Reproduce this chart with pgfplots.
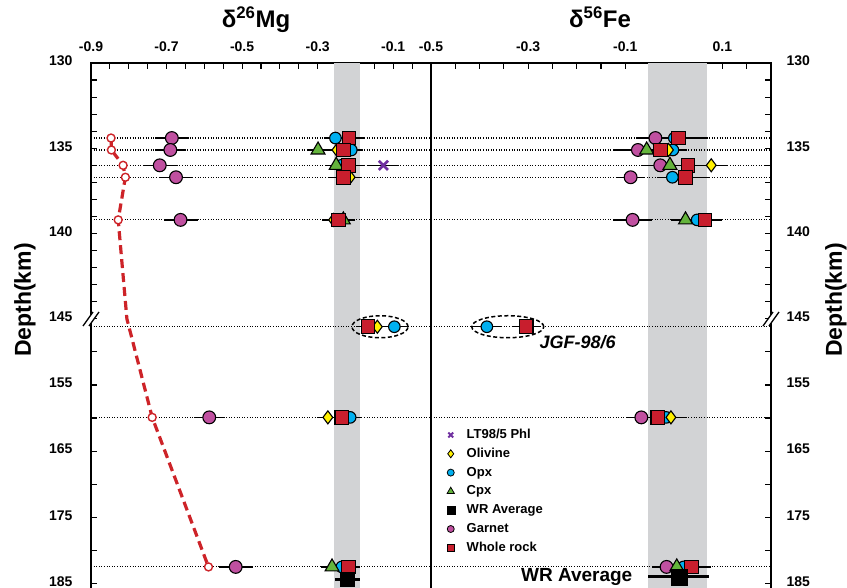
\documentclass[border=0pt]{standalone}
\usepackage{pgfplots}
\pgfplotsset{compat=1.18}
\usepackage{pgfplotstable}
\usepackage{fontspec}
\setmainfont{Liberation Sans}

\definecolor{grt}{RGB}{192,80,160}
\definecolor{wr}{RGB}{200,30,45}
\definecolor{opx}{RGB}{0,176,240}
\definecolor{ol}{RGB}{255,240,0}
\definecolor{cpx}{RGB}{100,180,60}
\definecolor{phl}{RGB}{112,48,160}
\definecolor{band}{RGB}{210,211,213}
\definecolor{model}{RGB}{205,35,40}

\newcommand{\tk}{\fontsize{14}{16}\selectfont\bfseries}
\newcommand{\ttl}{\fontsize{24}{28}\selectfont\bfseries}
\newcommand{\lab}{\fontsize{23}{26}\selectfont\bfseries}

% depth (km), value, 2sd
\pgfplotstableread{
depth grt grtE opx opxE ol olE cpx cpxE wr wrE
134.4 -0.686 0.045 -0.253 0.03 nan 0.03 nan 0.03 -0.217 0.04
135.1 -0.690 0.040 -0.211 0.03 -0.249 0.03 -0.299 0.03 -0.232 0.04
136.0 -0.718 0.045 -0.237 0.03 nan 0.03 -0.251 0.03 -0.218 0.04
136.7 -0.675 0.045 nan 0.03 -0.214 0.03 nan 0.03 -0.232 0.04
139.2 -0.663 0.045 nan 0.03 -0.258 0.03 -0.232 0.03 -0.245 0.03
146.2 nan 0.04 -0.097 0.03 -0.142 0.03 nan 0.03 -0.167 0.03
159.9 -0.587 0.040 -0.214 0.03 -0.273 0.03 nan 0.03 -0.236 0.03
182.5 -0.517 0.045 -0.236 0.03 nan 0.03 -0.262 0.03 -0.218 0.03
}\mgtab

\pgfplotstableread{
depth grt grtE opx opxE ol olE cpx cpxE wr wrE
134.4 -0.038 0.04 0.001 0.03 nan 0.03 nan 0.03 0.010 0.06
135.1 -0.074 0.05 -0.002 0.03 -0.011 0.03 -0.056 0.03 -0.028 0.04
136.0 -0.028 0.04 nan 0.03 0.077 0.035 -0.008 0.03 0.029 0.04
136.7 -0.089 0.03 -0.003 0.03 nan 0.03 nan 0.03 0.024 0.05
139.2 -0.085 0.04 0.048 0.03 nan 0.03 0.024 0.03 0.064 0.035
146.2 nan 0.04 -0.385 0.03 nan 0.03 nan 0.03 -0.304 0.03
159.9 -0.067 0.03 -0.016 0.03 -0.006 0.03 nan 0.03 -0.033 0.03
182.5 -0.015 0.03 0.020 0.03 nan 0.03 0.006 0.03 0.036 0.04
}\fetab

% modelled d26Mg of garnet with depth
\pgfplotstableread{
depth x
134.4 -0.847
135.1 -0.846
136.0 -0.815
136.7 -0.809
139.2 -0.828
145.0 -0.805
159.9 -0.738
182.5 -0.589
}\model

\pgfplotsset{
  panel/.style={
    scale only axis, width=340pt, height=535pt,
    y dir=reverse, ymin=130, ymax=187.2,
    y coord trafo/.code={\pgfmathparse{##1>145 ? 145+(##1-145)*0.388 : ##1}},
    y coord inv trafo/.code={\pgfmathparse{##1>145 ? 145+(##1-145)/0.388 : ##1}},
    ytick={130,135,140,145,155,165,175,185},
    yticklabels={130,135,140,145,155,165,175,185},
    minor ytick={131,132,133,134,136,137,138,139,141,142,143,144,150,160,170,180},
    xtick pos=right, xticklabel pos=right,
    tick align=inside, major tick length=6pt, minor tick length=6pt,
    tick style={black, line width=1.2pt},
    axis line style={line width=1.5pt},
    tick label style={font=\tk},
    xticklabel style={yshift=8pt},
  },
  ebar/.style={forget plot, draw=none, mark=none,
    error bars/x dir=both, error bars/x explicit, error bars/error mark=none,
    error bars/error bar style={draw=black, line width=1.4pt, solid}},
  sGrt/.style={forget plot, only marks, mark=*, mark size=6.4pt, mark options={fill=grt, draw=black, line width=1.1pt}},
  sOpx/.style={forget plot, only marks, mark=*, mark size=5.8pt, mark options={fill=opx, draw=black, line width=1.1pt}},
  sOl/.style={forget plot, only marks, mark=diamond*, mark size=6.5pt, mark options={fill=ol, draw=black, line width=1.1pt}},
  sCpx/.style={forget plot, only marks, mark=triangle*, mark size=8pt, mark options={fill=cpx, draw=black, line width=1.1pt}},
  sWr/.style={forget plot, only marks, mark=square*, mark size=6.8pt, mark options={fill=wr, draw=black, line width=1.1pt}},
  dots/.style={forget plot, black, line width=1.1pt, dash pattern=on 1pt off 1.6pt},
}

\begin{document}
\begin{tikzpicture}
\useasboundingbox (0pt,0pt) rectangle (847pt,-588pt);

% ---------------- d26Mg ----------------
\begin{axis}[panel, at={(91pt,-63pt)}, anchor=north west,
    xmin=-0.9, xmax=0,
    xtick={-0.9,-0.7,-0.5,-0.3,-0.1}, xticklabels={-0.9,-0.7,-0.5,-0.3,-0.1},
    minor xtick={-0.85,-0.8,-0.75,-0.65,-0.6,-0.55,-0.45,-0.4,-0.35,-0.25,-0.2,-0.15,-0.05},
    ytick pos=left, yticklabel style={xshift=-15pt, yshift=2pt}]
  \fill[band] (axis cs:-0.257,130) rectangle (axis cs:-0.188,187.2);
  \pgfplotsinvokeforeach{134.4,135.1,136.0,136.7,139.2,146.2,159.9,182.5}{
    \addplot[dots] coordinates {(-0.9,#1) (0,#1)};
  }
  \addplot[forget plot, model, line width=3.2pt, dash pattern=on 9pt off 5pt] table[x=x, y=depth] {\model};
  \addplot[forget plot, only marks, mark=*, mark size=4pt, mark options={fill=white, draw=model, line width=1.4pt, solid}]
    table[x=x, y=depth] {
depth x
134.4 -0.847
135.1 -0.846
136.0 -0.815
136.7 -0.809
139.2 -0.828
159.9 -0.738
182.5 -0.589
};
  \addplot[ebar] table[x=grt, y=depth, x error=grtE] {\mgtab};
  \addplot[ebar] table[x=opx, y=depth, x error=opxE] {\mgtab};
  \addplot[ebar] table[x=ol, y=depth, x error=olE] {\mgtab};
  \addplot[ebar] table[x=cpx, y=depth, x error=cpxE] {\mgtab};
  \addplot[ebar] table[x=wr, y=depth, x error=wrE] {\mgtab};
  \addplot[ebar] coordinates {(-0.126,136.0) +- (0.04,0)};
  \addplot[forget plot, only marks, mark=x, mark size=6.5pt, mark options={draw=phl, line width=2.6pt}] coordinates {(-0.126,136.0)};
  \addplot[sGrt] table[x=grt, y=depth] {\mgtab};
  \addplot[sOpx] table[x=opx, y=depth] {\mgtab};
  \addplot[sOl] table[x=ol, y=depth] {\mgtab};
  \addplot[sCpx] table[x=cpx, y=depth] {\mgtab};
  \addplot[sWr] table[x=wr, y=depth] {\mgtab};
  % WR average
  \addplot[forget plot, only marks, mark=square*, mark size=7pt, mark options={fill=black, draw=black},
    error bars/x dir=both, error bars/x explicit, error bars/error mark=none,
    error bars/error bar style={draw=black, line width=3pt}]
    coordinates {(-0.221,184.4) +- (0.033,0)};
  \draw[dashed, line width=1.5pt, dash pattern=on 4pt off 2.5pt] (axis cs:-0.135,146.2) ellipse [x radius=28pt, y radius=11pt];
\end{axis}

% ---------------- d56Fe ----------------
\begin{axis}[panel, at={(431pt,-63pt)}, anchor=north west,
    xmin=-0.5, xmax=0.2,
    xtick={-0.5,-0.3,-0.1,0.1}, xticklabels={-0.5,-0.3,-0.1,0.1},
    minor xtick={-0.45,-0.4,-0.35,-0.25,-0.2,-0.15,-0.05,0,0.05,0.15},
    ytick pos=right, yticklabel pos=right, yticklabel style={xshift=12pt, yshift=2pt},
    legend cell align=left,
    legend style={at={(axis cs:-0.468,161.4)}, anchor=north west, draw=none, fill=none,
      font=\fontsize{13}{15}\selectfont\bfseries, inner sep=0pt, row sep=3.8pt, column sep=11pt,
      nodes={text height=10pt, text depth=3pt, inner sep=1pt}}]
  \addlegendimage{only marks, mark=x, mark size=3.5pt, mark options={draw=phl, line width=1.8pt}}
  \addlegendentry{LT98/5 Phl}
  \addlegendimage{only marks, mark=diamond*, mark size=4pt, mark options={fill=ol, draw=black, line width=0.8pt}}
  \addlegendentry{Olivine}
  \addlegendimage{only marks, mark=*, mark size=3.5pt, mark options={fill=opx, draw=black, line width=0.8pt}}
  \addlegendentry{Opx}
  \addlegendimage{only marks, mark=triangle*, mark size=4.2pt, mark options={fill=cpx, draw=black, line width=0.8pt}}
  \addlegendentry{Cpx}
  \addlegendimage{only marks, mark=square*, mark size=4pt, mark options={fill=black, draw=black}}
  \addlegendentry{WR Average}
  \addlegendimage{only marks, mark=*, mark size=3.5pt, mark options={fill=grt, draw=black, line width=0.8pt}}
  \addlegendentry{Garnet}
  \addlegendimage{only marks, mark=square*, mark size=3.5pt, mark options={fill=wr, draw=black, line width=0.8pt}}
  \addlegendentry{Whole rock}
  \fill[band] (axis cs:-0.053,130) rectangle (axis cs:0.068,187.2);
  \pgfplotsinvokeforeach{134.4,135.1,136.0,136.7,139.2,146.2,159.9,182.5}{
    \addplot[dots] coordinates {(-0.5,#1) (0.2,#1)};
  }
  \addplot[ebar] table[x=grt, y=depth, x error=grtE] {\fetab};
  \addplot[ebar] table[x=opx, y=depth, x error=opxE] {\fetab};
  \addplot[ebar] table[x=ol, y=depth, x error=olE] {\fetab};
  \addplot[ebar] table[x=cpx, y=depth, x error=cpxE] {\fetab};
  \addplot[ebar] table[x=wr, y=depth, x error=wrE] {\fetab};
  \addplot[sGrt] table[x=grt, y=depth] {\fetab};
  \addplot[sOpx] table[x=opx, y=depth] {\fetab};
  \addplot[sOl] table[x=ol, y=depth] {\fetab};
  \addplot[sCpx] table[x=cpx, y=depth] {\fetab};
  \addplot[sWr] table[x=wr, y=depth] {\fetab};
  \addplot[forget plot, only marks, mark=square*, mark size=8pt, mark options={fill=black, draw=black},
    error bars/x dir=both, error bars/x explicit, error bars/error mark=none,
    error bars/error bar style={draw=black, line width=3pt}]
    coordinates {(0.010,184.0) +- (0.063,0)};
  \draw[dashed, line width=1.5pt, dash pattern=on 4pt off 2.5pt] (axis cs:-0.342,146.2) ellipse [x radius=36pt, y radius=11pt];
  \node[font=\fontsize{18}{20}\selectfont\bfseries\itshape] at (axis cs:-0.198,148.6) {JGF-98/6};
  \node[font=\fontsize{19}{22}\selectfont\bfseries] at (axis cs:-0.2,184.0) {WR Average};
\end{axis}

% axis breaks at 145 km
\foreach \xa in {91,771}{
  \fill[white] (\xa pt-8pt,-326pt) -- (\xa pt+2pt,-312pt) -- (\xa pt+8pt,-312pt) -- (\xa pt-2pt,-326pt) -- cycle;
  \draw[line width=1.3pt] (\xa pt-8pt,-326pt) -- (\xa pt+2pt,-312pt);
  \draw[line width=1.3pt] (\xa pt-2pt,-326pt) -- (\xa pt+8pt,-312pt);
}

\node[font=\ttl, anchor=base] at (256pt,-28pt) {δ\textsuperscript{26}Mg};
\node[font=\ttl, anchor=base] at (600pt,-28pt) {δ\textsuperscript{56}Fe};
\node[font=\lab, rotate=90] at (25pt,-300pt) {Depth(km)};
\node[font=\lab, rotate=90] at (836pt,-300pt) {Depth(km)};
\end{tikzpicture}
\end{document}
